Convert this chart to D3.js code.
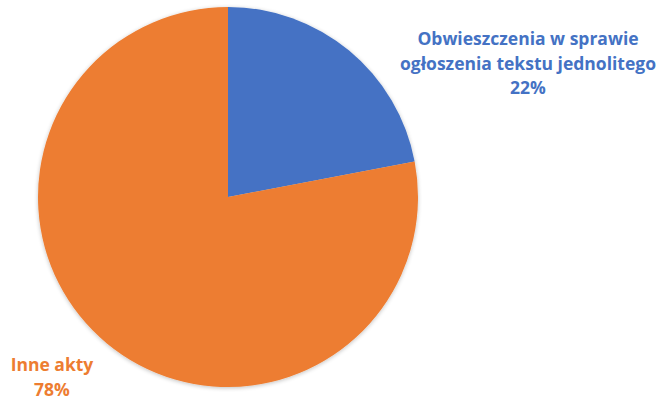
<!DOCTYPE html>
<html>
<head>
<meta charset="utf-8">
<script src="https://cdn.jsdelivr.net/npm/d3@7"></script>
<style>
  html, body { margin: 0; padding: 0; background: #fff; }
  svg { display: block; }
</style>
</head>
<body>
<svg id="chart" width="658" height="399"></svg>
<script>
// Share of acts by type
const categories = ["Obwieszczenia w sprawie ogłoszenia tekstu jednolitego", "Inne akty"];
const values = [22, 78];
const colors = ["#4472C4", "#ED7D31"];
const labelLines = [
  ["Obwieszczenia w sprawie", "ogłoszenia tekstu jednolitego", "22%"],
  ["Inne akty", "78%"]
];

const data = categories.map((c, i) => ({ category: c, value: values[i], color: colors[i], lines: labelLines[i] }));

const svg = d3.select("#chart");
const cx = 228, cy = 197, radius = 190;

// Soft shadow around the pie
const defs = svg.append("defs");
const f = defs.append("filter").attr("id", "soft").attr("x", "-10%").attr("y", "-10%").attr("width", "120%").attr("height", "120%");
f.append("feGaussianBlur").attr("in", "SourceAlpha").attr("stdDeviation", 2);
f.append("feOffset").attr("dx", 0).attr("dy", 1).attr("result", "b");
f.append("feComponentTransfer").append("feFuncA").attr("type", "linear").attr("slope", 0.25);
const m = f.append("feMerge");
m.append("feMergeNode");
m.append("feMergeNode").attr("in", "SourceGraphic");

const pie = d3.pie().sort(null).value(d => d.value);
const arc = d3.arc().innerRadius(0).outerRadius(radius);

const g = svg.append("g").attr("transform", `translate(${cx},${cy})`).attr("filter", "url(#soft)");
g.selectAll("path")
  .data(pie(data))
  .join("path")
  .attr("d", arc)
  .attr("fill", d => d.data.color);

// Labels
const labelPos = [
  { x: 528, y: 45 },
  { x: 52, y: 371 }
];
const lineH = 24.5;
data.forEach((d, i) => {
  const t = svg.append("text")
    .attr("text-anchor", "middle")
    .attr("font-family", "'Open Sans', 'Liberation Sans', sans-serif")
    .attr("font-weight", "bold")
    .attr("font-size", 17.5)
    .attr("fill", d.color);
  d.lines.forEach((line, j) => {
    t.append("tspan").attr("x", labelPos[i].x).attr("y", labelPos[i].y + j * lineH).text(line);
  });
});
</script>
</body>
</html>
